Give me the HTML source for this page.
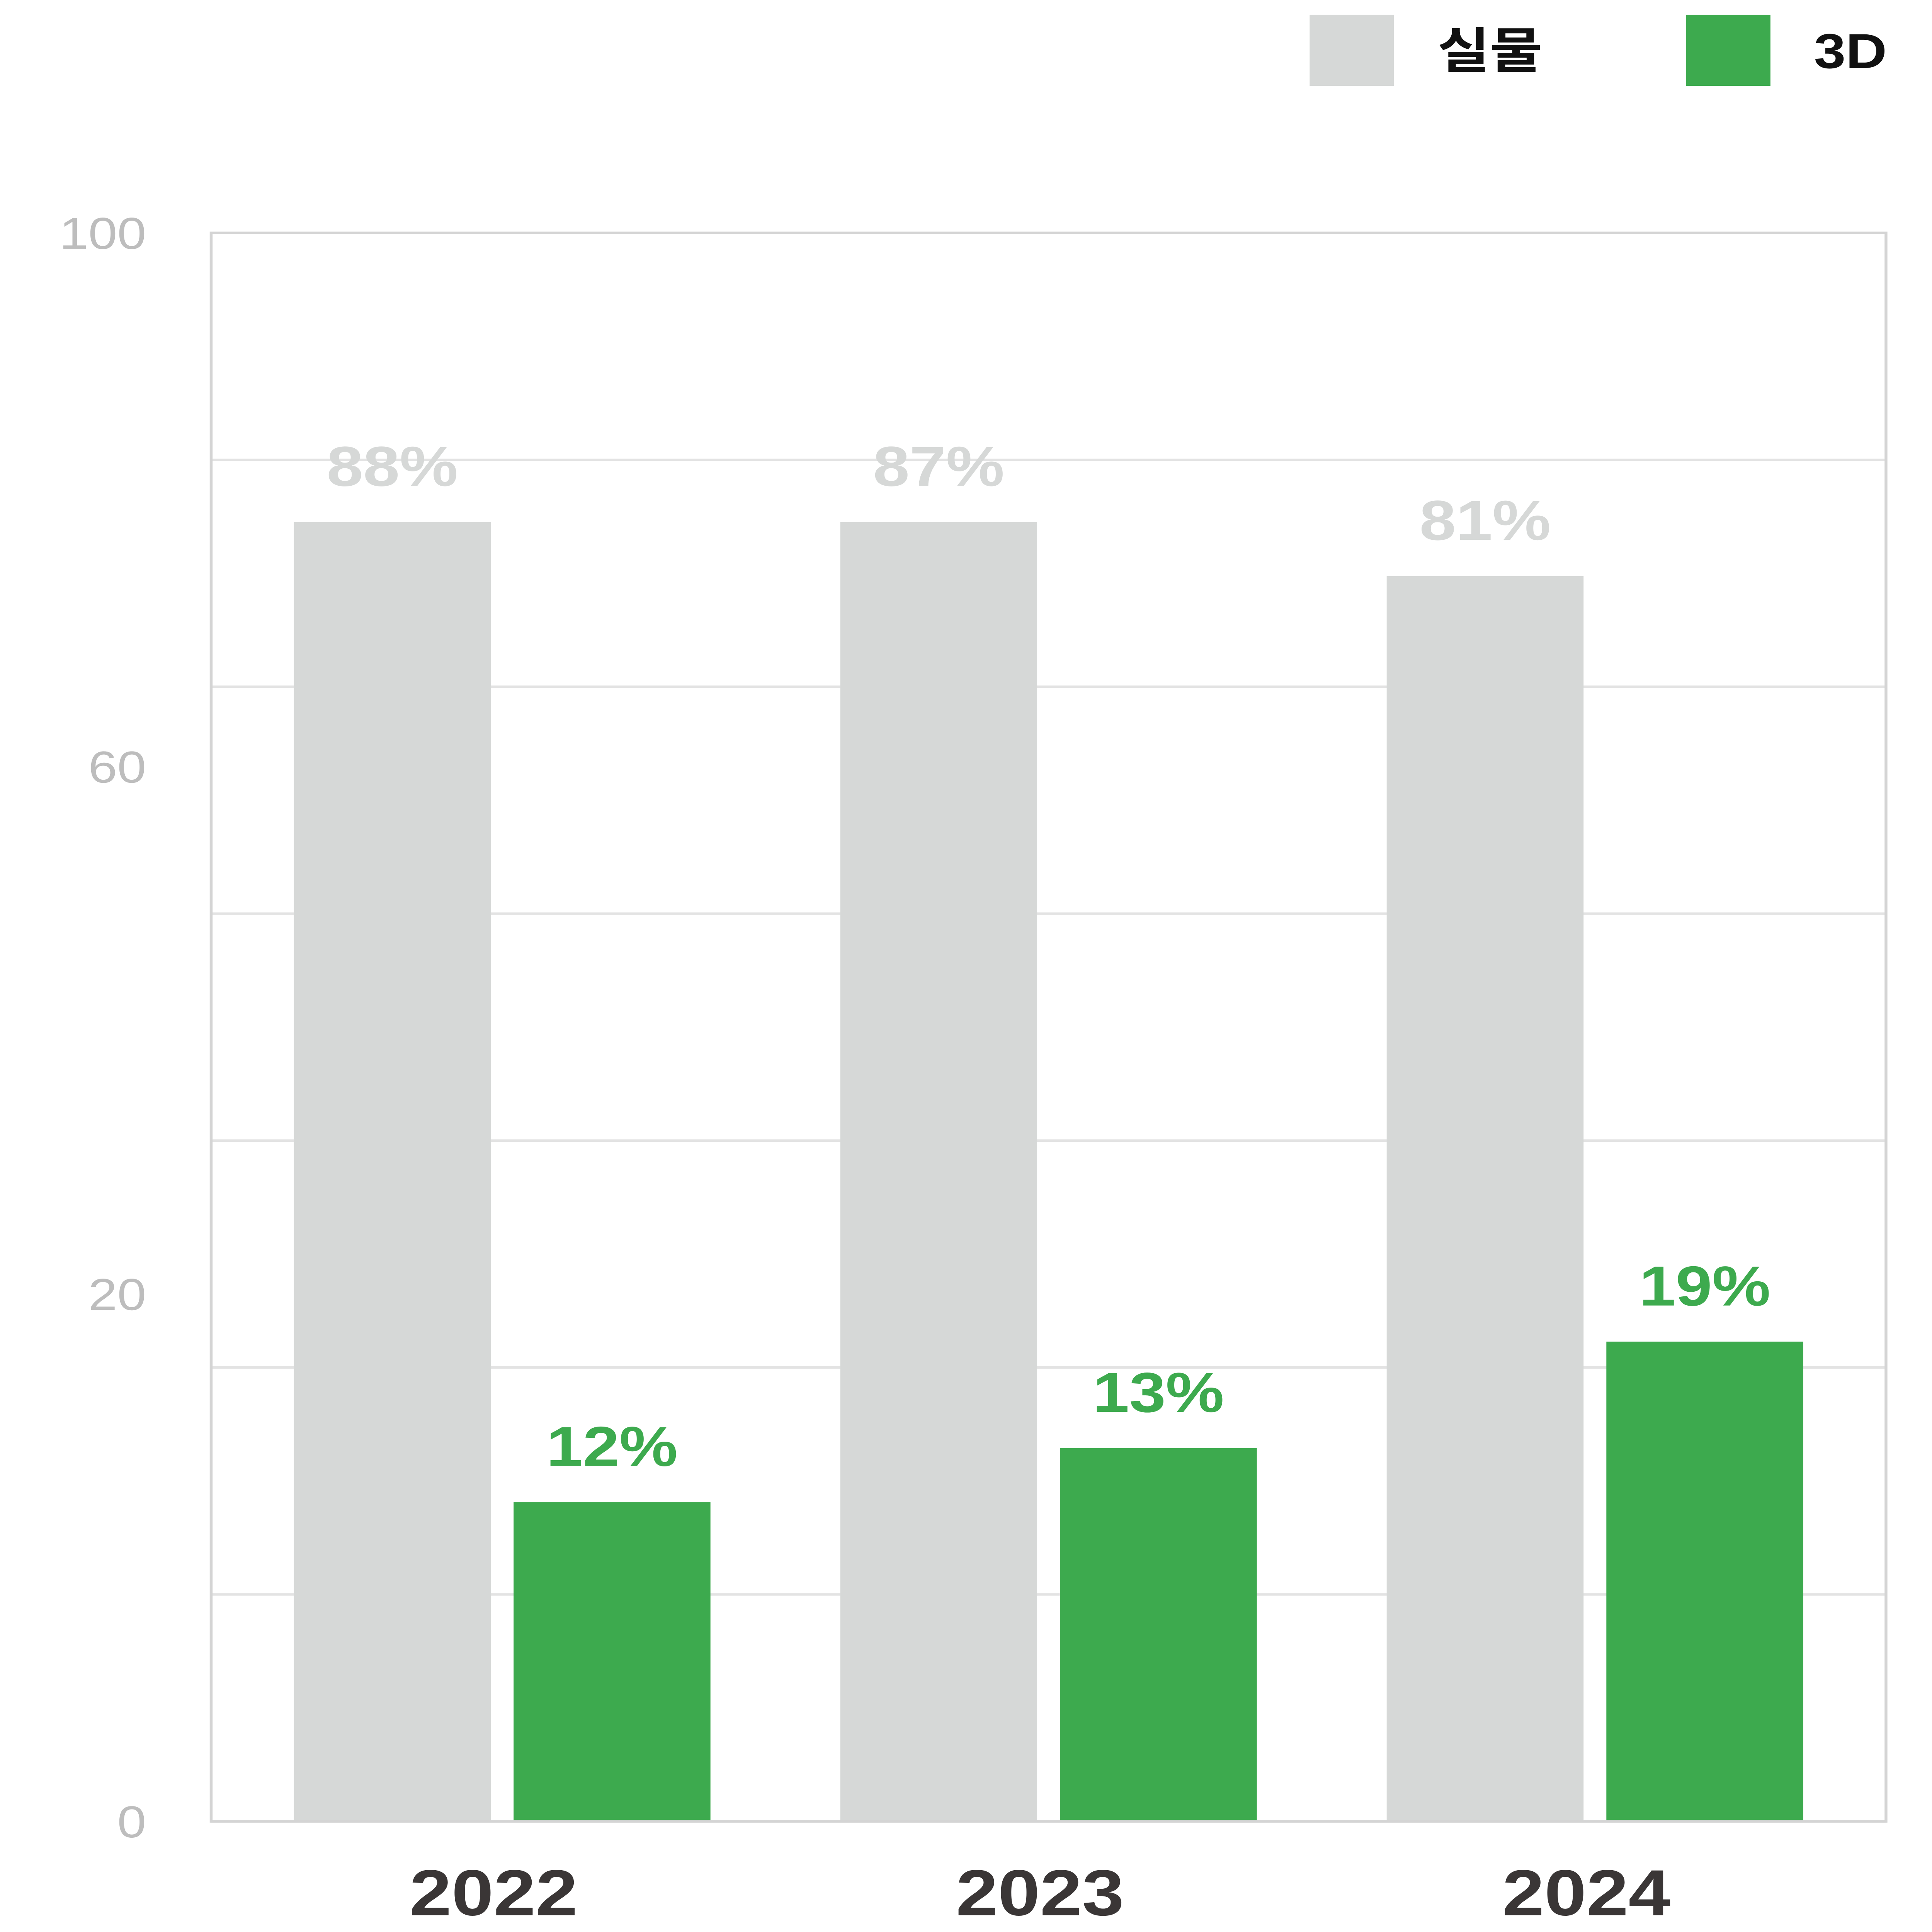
<!DOCTYPE html>
<html><head><meta charset="utf-8">
<style>
html,body{margin:0;padding:0;background:#fff;width:100%;height:100%;overflow:hidden;}
svg{display:block;width:100vw;height:100vh;}
text{font-family:"Liberation Sans","Noto Sans CJK KR",sans-serif;}
</style></head>
<body>
<svg id="chart" viewBox="0 0 5417 6305" preserveAspectRatio="none" xmlns="http://www.w3.org/2000/svg">
  <g>
    <rect x="3672" y="48" width="236" height="232" fill="#d6d8d7"/>
    <text x="4030" y="222" font-size="160" font-weight="bold" fill="#111">실물</text>
    <rect x="4728" y="48" width="236" height="232" fill="#3daa4e"/>
    <text x="5086" y="222" font-size="160" font-weight="bold" fill="#111">3D</text>
  </g>
  <g id="grid"></g>
  <g id="yaxis"></g>
  <g id="bars"></g>
  <g id="xaxis"></g>
</svg>
<script>
const categories = ["2022", "2023", "2024"];
const physicalValues = [81.8, 81.8, 78.4];
const threeDValues = [20.1, 23.5, 30.2];
const physicalLabels = ["88%", "87%", "81%"];
const threeDLabels = ["12%", "13%", "19%"];
const yTickLabels = ["100", "60", "20", "0"];
const yTickPositions = [100, 66.4, 33.2, 0];
const gridCount = 7;

const NS = "http://www.w3.org/2000/svg";
const plotL = 592, plotR = 5288, plotT = 760, plotB = 5944;
function y(v){ return plotB - (v/100)*(plotB-plotT); }
function cx(i){ return 1408 + i*1532; }
function mk(tag, attrs, parent, txt){
  const e = document.createElementNS(NS, tag);
  for (const k in attrs) e.setAttribute(k, attrs[k]);
  if (txt !== undefined) e.textContent = txt;
  parent.appendChild(e); return e;
}
const grid = document.getElementById('grid');
for (let i=1;i<gridCount;i++){
  const gy = plotT + i*(plotB-plotT)/gridCount;
  const l = mk('line',{x1:plotL,x2:plotR,y1:gy,y2:gy,stroke:'#e3e3e3','stroke-width':8},grid);
  
  
}
const frame = mk('rect',{x:plotL,y:plotT,width:plotR-plotL,height:plotB-plotT,fill:'none',stroke:'#d4d4d4','stroke-width':8},grid);



const yaxis = document.getElementById('yaxis');
yTickLabels.forEach((t,i)=>{
  const e = mk('text',{x:410,y:y(yTickPositions[i])+52,'font-size':146,fill:'#bdbdbd','text-anchor':'end'},yaxis,t);
  
  
});

const bars = document.getElementById('bars');
categories.forEach((c,i)=>{
  const gx = cx(i)-584, gw = 552;
  const gTop = y(physicalValues[i]);
  const b1 = mk('rect',{x:gx,y:gTop,width:gw,height:plotB-gTop,fill:'#d6d8d7'},bars);
  
  
  const t1 = mk('text',{x:gx+gw/2,y:gTop-118,'font-size':184,'font-weight':'bold',fill:'#d6d8d7','text-anchor':'middle'},bars,physicalLabels[i]);
  
  
  const hx = cx(i)+32;
  const hTop = y(threeDValues[i]);
  const b2 = mk('rect',{x:hx,y:hTop,width:gw,height:plotB-hTop,fill:'#3daa4e'},bars);
  
  
  const t2 = mk('text',{x:hx+gw/2,y:hTop-118,'font-size':184,'font-weight':'bold',fill:'#3daa4e','text-anchor':'middle'},bars,threeDLabels[i]);
  
  
});
const base = mk('line',{x1:plotL,x2:plotR,y1:plotB,y2:plotB,stroke:'#d4d4d4','stroke-width':8},bars);



const xaxis = document.getElementById('xaxis');
categories.forEach((c,i)=>{
  const e = mk('text',{x:cx(i)-24,y:6250,'font-size':212,'font-weight':'bold',fill:'#3a3636','text-anchor':'middle'},xaxis,c);
  
  
});
</script>
</body></html>
